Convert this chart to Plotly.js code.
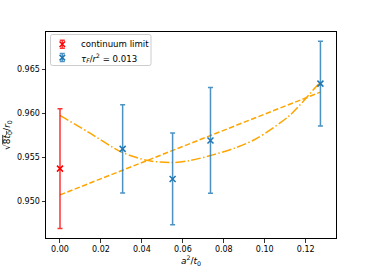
<!DOCTYPE html>
<html>
<head>
<meta charset="utf-8">
<script src="https://cdn.plot.ly/plotly-3.0.1.min.js"></script>
<style>html,body{margin:0;padding:0;background:#fff;} #chart{width:374px;height:268px;}</style>
</head>
<body>
<div id="chart"></div>
<script>
// continuum limit point
const contX = [0.0];
const contY = [0.9537];
const contErr = [0.0068];
// lattice points tau_F/r^2 = 0.013
const latX = [0.0306, 0.0550, 0.0735, 0.1272];
const latY = [0.95594, 0.95253, 0.95690, 0.96334];
const latErr = [0.0050, 0.0052, 0.0060, 0.0048];
// linear fit (dashed)
const linFitX = [0.0, 0.1272];
const linFitY = [0.95072, 0.96238];
// curved fit (dash-dot)
const curFitX = [0.0, 0.0138, 0.0301, 0.0431, 0.0545, 0.0634, 0.0747, 0.0850, 0.0959, 0.1122, 0.1252, 0.1272];
const curFitY = [0.95974, 0.95784, 0.95557, 0.95461, 0.95439, 0.95461, 0.95526, 0.95600, 0.95710, 0.95974, 0.96303, 0.96352];
// legend labels
const legendLabels = ["continuum limit", "<i>τ<sub>F</sub></i>/<i>r</i><sup>2</sup> = 0.013"];
// axis ticks
const xTicks = [0.00, 0.02, 0.04, 0.06, 0.08, 0.10, 0.12];
const xTickText = ["0.00", "0.02", "0.04", "0.06", "0.08", "0.10", "0.12"];
const yTicks = [0.950, 0.955, 0.960, 0.965];
const yTickText = ["0.950", "0.955", "0.960", "0.965"];

const FONT = "DejaVu Sans, sans-serif";
const BLUE = "#1f77b4";
const RED = "#ff0000";
const ORANGE = "#ffa500";
const colors = [RED, BLUE];
const errColors = ["rgba(255,0,0,0.8)", "rgba(31,119,180,0.8)"];

// pixel frame of the plotting area (overlay axes for the hand-built legend)
const PL = 46, PR = 336, PT = 32, PB = 238;
const legBox = {x0: 50.5, x1: 151, y0: 34.5, y1: 65.5};
const legRows = [44.3, 57.6];
const legMarkX = 62.3, legTextX = 78.5;

const traces = [
  {x: linFitX, y: linFitY, mode: "lines", showlegend: false, hoverinfo: "skip",
   line: {color: ORANGE, width: 1.5, dash: "5.5px,2.4px"}},
  {x: curFitX, y: curFitY, mode: "lines", showlegend: false, hoverinfo: "skip",
   line: {color: ORANGE, width: 1.5, dash: "9.6px,2.4px,1.5px,2.4px", shape: "spline", smoothing: 0.8}},
  {x: contX, y: contY, mode: "markers", showlegend: false,
   marker: {symbol: "x-thin-open", size: 6, color: RED, line: {color: RED, width: 1.5}},
   error_y: {type: "data", array: contErr, visible: true, color: errColors[0], thickness: 1.5, width: 2.5}},
  {x: latX, y: latY, mode: "markers", showlegend: false,
   marker: {symbol: "x-thin-open", size: 6, color: BLUE, line: {color: BLUE, width: 1.5}},
   error_y: {type: "data", array: latErr, visible: true, color: errColors[1], thickness: 1.5, width: 2.5}}
];
legendLabels.forEach((lab, i) => {
  traces.push({x: [legMarkX], y: [legRows[i]], xaxis: "x2", yaxis: "y2", mode: "markers",
    showlegend: false, hoverinfo: "skip",
    marker: {symbol: "x-thin-open", size: 5.5, color: colors[i], line: {color: colors[i], width: 1.5}},
    error_y: {type: "constant", value: 4, visible: true, color: errColors[i], thickness: 1.5, width: 2.5}});
});

const r = 2;
const b = legBox;
const boxPath = `M ${b.x0 + r} ${b.y0} L ${b.x1 - r} ${b.y0} Q ${b.x1} ${b.y0} ${b.x1} ${b.y0 + r} L ${b.x1} ${b.y1 - r} Q ${b.x1} ${b.y1} ${b.x1 - r} ${b.y1} L ${b.x0 + r} ${b.y1} Q ${b.x0} ${b.y1} ${b.x0} ${b.y1 - r} L ${b.x0} ${b.y0 + r} Q ${b.x0} ${b.y0} ${b.x0 + r} ${b.y0} Z`;

const layout = {
  width: 374, height: 268,
  margin: {l: PL, r: 374 - PR, t: PT, b: 268 - PB, pad: 0},
  paper_bgcolor: "#fff", plot_bgcolor: "#fff",
  font: {family: FONT, size: 8, color: "#000"},
  showlegend: false,
  xaxis: {range: [-0.00683, 0.1348], tickvals: xTicks, ticktext: xTickText,
          showgrid: false, zeroline: false, showline: true, mirror: true, linecolor: "#000", linewidth: 1,
          ticks: "outside", ticklen: 3.5, tickwidth: 0.8, tickcolor: "#000",
          tickfont: {family: FONT, size: 8, color: "#000"},
          title: {text: "<i>a</i><sup>2</sup>/<i>t</i><sub>0</sub>", font: {family: FONT, size: 9, color: "#000"}, standoff: 4}},
  yaxis: {range: [0.94583, 0.9692], tickvals: yTicks, ticktext: yTickText,
          showgrid: false, zeroline: false, showline: true, mirror: true, linecolor: "#000", linewidth: 1,
          ticks: "outside", ticklen: 3.5, tickwidth: 0.8, tickcolor: "#000",
          tickfont: {family: FONT, size: 8, color: "#000"},
          title: {text: "√<span style=\"text-decoration:overline\">8<i>t</i><sub>0</sub></span>/<i>r</i><sub>0</sub>", font: {family: FONT, size: 9, color: "#000"}, standoff: 4}},
  xaxis2: {overlaying: "x", anchor: "y2", range: [PL, PR], visible: false, fixedrange: true},
  yaxis2: {overlaying: "y", anchor: "x2", range: [PB, PT], visible: false, fixedrange: true},
  shapes: [{type: "path", xref: "x2", yref: "y2", path: boxPath, layer: "below",
            line: {color: "#cccccc", width: 1}, fillcolor: "rgba(255,255,255,0.8)"}],
  annotations: legendLabels.map((lab, i) => ({
    xref: "x2", yref: "y2", x: legTextX, y: legRows[i], text: lab, showarrow: false,
    xanchor: "left", yanchor: "middle", font: {family: FONT, size: 8.6, color: "#000"}
  }))
};

Plotly.newPlot("chart", traces, layout, {staticPlot: true, displayModeBar: false});
</script>
</body>
</html>
